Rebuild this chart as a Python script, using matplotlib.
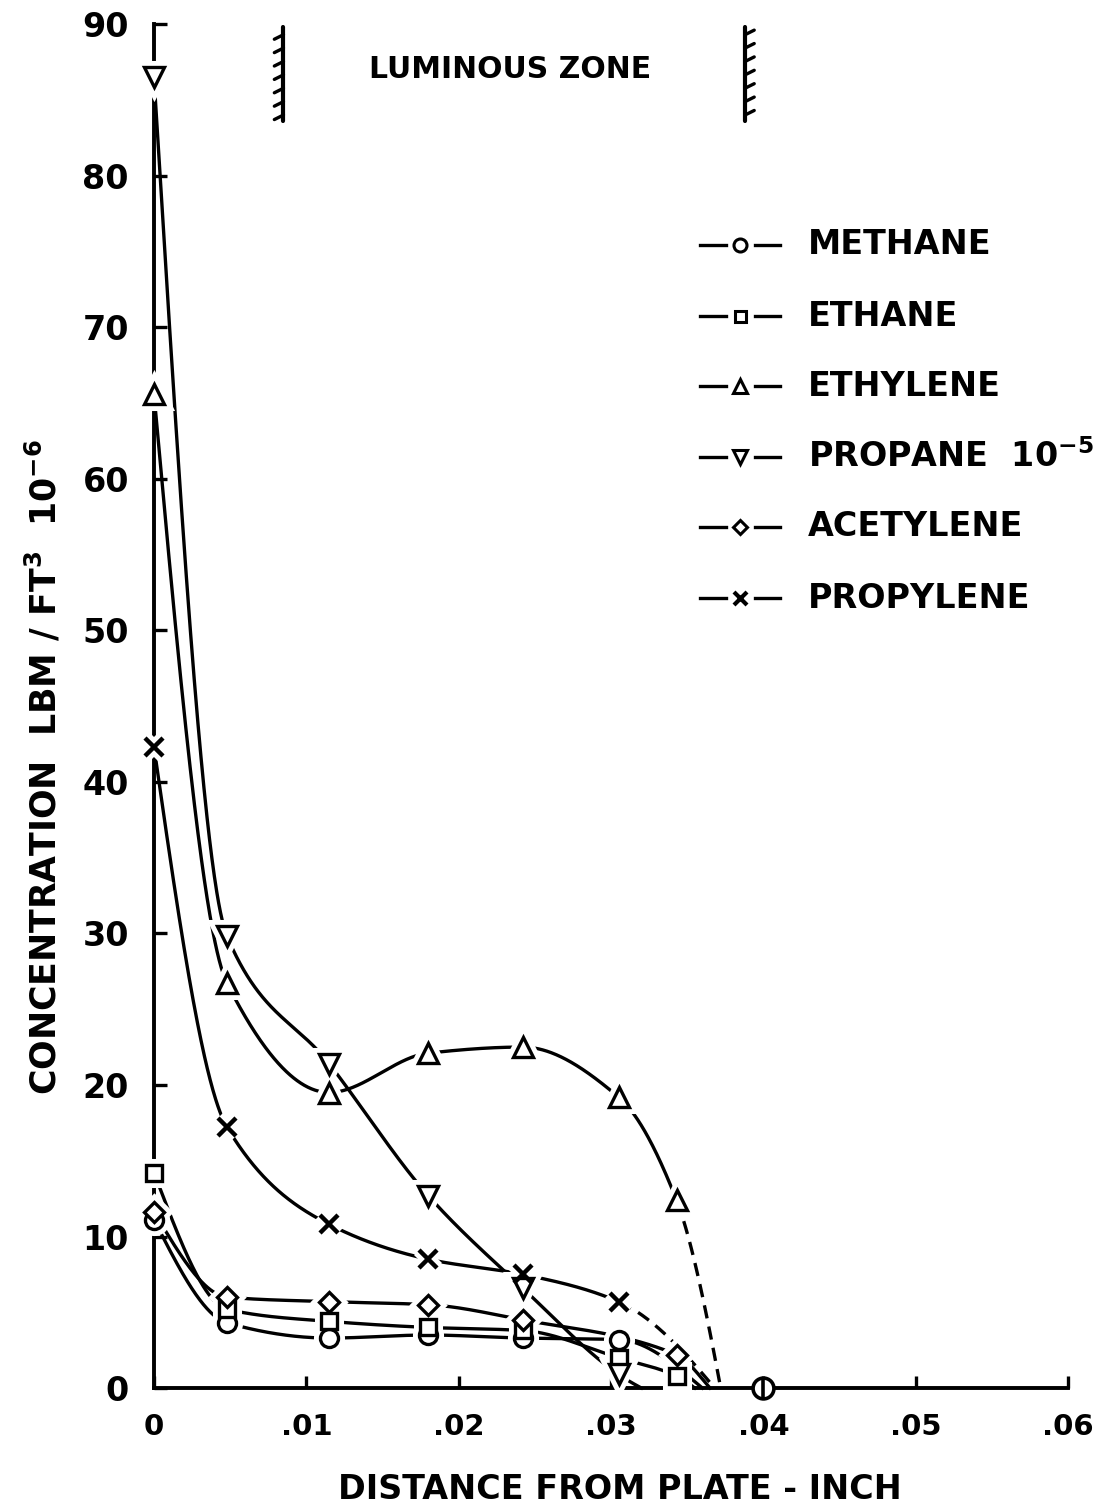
import numpy as np
import matplotlib.pyplot as plt
from matplotlib.lines import Line2D

plt.rcParams["font.family"] = ["DejaVu Sans"]
plt.rcParams["font.weight"] = "bold"
plt.rcParams["axes.labelweight"] = "bold"
plt.rcParams["mathtext.default"] = "bf"

# sampling stations, distance from plate (inch)
distance = [0.0, 0.0048, 0.0115, 0.018, 0.0242, 0.0305, 0.0343]

# concentrations, lbm/ft3 x 1e-6 (propane x 1e-5); nan = not measured
methane = [11.1, 4.3, 3.3, 3.5, 3.3, 3.2, np.nan]
ethane = [14.2, 5.2, 4.4, 4.0, 3.8, 2.0, 0.8]
ethylene = [65.6, 26.7, 19.5, 22.1, 22.5, 19.2, 12.4]
propane = [86.5, 29.8, 21.4, 12.7, 6.6, 0.9, np.nan]
acetylene = [11.6, 6.0, 5.7, 5.5, 4.5, np.nan, 2.2]
propylene = [42.3, 17.2, 10.8, 8.5, 7.5, 5.7, np.nan]

# distance where each faired curve comes down to zero
zero_at = {
    "METHANE": 0.0360,
    "ETHANE": 0.0355,
    "ETHYLENE": 0.0372,
    "PROPANE": 0.0320,
    "ACETYLENE": 0.0365,
    "PROPYLENE": 0.0368,
}
# methane reading beyond the flame
methane_far_x = [0.04]
methane_far_y = [0.0]

# edges of the luminous zone
zone_edges = [0.0085, 0.0388]

series = [
    ("METHANE", methane, "o", 13, False),
    ("ETHANE", ethane, "s", 11, False),
    ("ETHYLENE", ethylene, "^", 14, True),
    ("PROPANE", propane, "v", 14, False),
    ("ACETYLENE", acetylene, "D", 10, False),
    ("PROPYLENE", propylene, "x", 13, True),
]
legend_names = {
    "PROPANE": "PROPANE  $10^{-5}$",
}


def pchip(xk, yk, xs):
    # monotone piecewise cubic (Fritsch-Carlson)
    xk = np.asarray(xk, float)
    yk = np.asarray(yk, float)
    h = np.diff(xk)
    d = np.diff(yk) / h
    n = len(xk)
    m = np.zeros(n)
    for k in range(1, n - 1):
        if d[k - 1] * d[k] > 0:
            w1 = 2 * h[k] + h[k - 1]
            w2 = h[k] + 2 * h[k - 1]
            m[k] = (w1 + w2) / (w1 / d[k - 1] + w2 / d[k])

    def end_slope(h0, h1, d0, d1):
        s = ((2 * h0 + h1) * d0 - h0 * d1) / (h0 + h1)
        if np.sign(s) != np.sign(d0):
            s = 0.0
        elif np.sign(d0) != np.sign(d1) and abs(s) > abs(3 * d0):
            s = 3 * d0
        return s

    m[0] = end_slope(h[0], h[1], d[0], d[1])
    m[-1] = end_slope(h[-1], h[-2], d[-1], d[-2])
    i = np.clip(np.searchsorted(xk, xs) - 1, 0, n - 2)
    t = (xs - xk[i]) / h[i]
    h00 = 2 * t**3 - 3 * t**2 + 1
    h10 = t**3 - 2 * t**2 + t
    h01 = -2 * t**3 + 3 * t**2
    h11 = t**3 - t**2
    return h00 * yk[i] + h10 * h[i] * m[i] + h01 * yk[i + 1] + h11 * h[i] * m[i + 1]


W, H = 1107, 1505
fig = plt.figure(figsize=(W / 100, H / 100), dpi=100)
ax = fig.add_axes([0.1391, 0.0777, 0.8257, 0.9063])

for name, vals, marker, ms, dashed_tail in series:
    vals = np.asarray(vals, float)
    ok = ~np.isnan(vals)
    xm = np.asarray(distance)[ok]
    ym = vals[ok]
    xc = np.append(xm, zero_at[name])
    yc = np.append(ym, 0.0)
    xs = np.linspace(0, xc[-1], 800)
    ys = pchip(xc, yc, xs)
    if dashed_tail:
        cut = xs <= xm[-1]
        ax.plot(xs[cut], ys[cut], color="black", lw=2.4, zorder=2, clip_on=False)
        ax.plot(xs[~cut], ys[~cut], color="black", lw=2.4, ls=(0, (4, 2.5)), zorder=2, clip_on=False)
    else:
        ax.plot(xs, ys, color="black", lw=2.4, zorder=2, clip_on=False)

    mew = 3.2 if marker == "x" else 2.4
    # white halo leaves a gap in the curves around each point
    ax.plot(xm, ym, ls="none", marker=marker, ms=ms, mfc="white", mec="white",
            mew=mew + 7, zorder=2.6, clip_on=False)
    ax.plot(xm, ym, ls="none", marker=marker, ms=ms, mfc="white", mec="black",
            mew=mew, zorder=3, clip_on=False)

# methane beyond the flame, sitting on the axis
ax.plot(methane_far_x, methane_far_y, ls="none", marker="o", ms=15, mfc="white",
        mec="black", mew=2.6, zorder=3, clip_on=False)
ax.plot(methane_far_x, methane_far_y, ls="none", marker="|", ms=15, mec="black",
        mew=2.6, zorder=3.1, clip_on=False)

# hatched edges of the luminous zone
for x_edge, side in zip(zone_edges, [-1, 1]):
    ax.plot([x_edge, x_edge], [83.6, 89.8], color="black", lw=3.0, clip_on=False,
            solid_capstyle="round")
    for yy in np.linspace(84.0, 89.3, 7):
        ax.plot([x_edge, x_edge + side * 0.0006], [yy, yy + side * 0.3],
                color="black", lw=2.4, clip_on=False, solid_capstyle="round")
ax.text(np.mean(zone_edges) - 0.0003, 87.0, "LUMINOUS ZONE", ha="center", va="center",
        fontsize=21.5)

ax.set_xlim(0, 0.06)
ax.set_ylim(0, 90)
ax.set_xticks([0.0, 0.01, 0.02, 0.03, 0.04, 0.05, 0.06])
ax.set_xticklabels(["0", ".01", ".02", ".03", ".04", ".05", ".06"])
ax.set_yticks(np.arange(0, 100, 10))
ax.tick_params(direction="in", length=9, width=2.4)
ax.tick_params(axis="x", labelsize=21, pad=18)
ax.tick_params(axis="y", labelsize=24, pad=18)
for side in ["top", "right"]:
    ax.spines[side].set_visible(False)
for side in ["left", "bottom"]:
    ax.spines[side].set_linewidth(2.8)

ax.set_xlabel("DISTANCE FROM PLATE - INCH", fontsize=24)
ax.xaxis.set_label_coords(0.51, -0.062)
ax.set_ylabel("CONCENTRATION  LBM / FT$^{3}$  $10^{-6}$", fontsize=25)
ax.yaxis.set_label_coords(-0.099, 0.455)

# key: short dash, symbol, short dash, name
row_y = [245, 316, 386, 457, 527, 598]
for (name, vals, marker, ms, dashed_tail), yp in zip(series, row_y):
    fy = 1 - yp / H
    for x0, x1 in [(700, 726), (755, 780)]:
        fig.add_artist(Line2D([x0 / W, x1 / W], [fy, fy], color="black", lw=2.4,
                              transform=fig.transFigure))
    mew = 3.0 if marker == "x" else 2.2
    fig.add_artist(Line2D([740 / W], [fy], ls="none", marker=marker, ms=ms * 0.72,
                          mfc="white", mec="black", mew=mew, transform=fig.transFigure))
    fig.text(808 / W, fy, legend_names.get(name, name), ha="left", va="center",
             fontsize=24)

fig.savefig("out.png", dpi=100)
